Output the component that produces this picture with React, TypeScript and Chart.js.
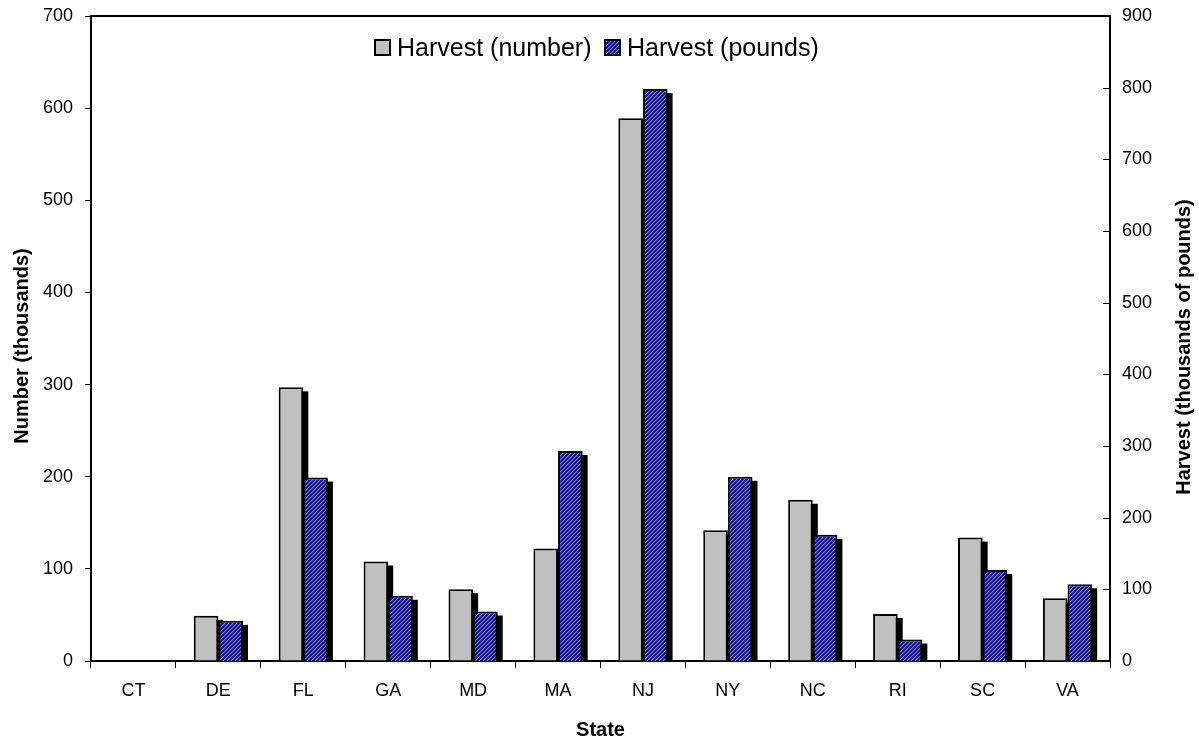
import React, { useEffect, useRef } from 'react';
import { Chart, registerables } from 'chart.js';

Chart.register(...registerables);

const states = ['CT', 'DE', 'FL', 'GA', 'MD', 'MA', 'NJ', 'NY', 'NC', 'RI', 'SC', 'VA'];
const harvestNumber = [0, 49, 297, 108, 78, 122, 589, 142, 175, 51, 134, 68];
const harvestPounds = [0, 56, 256, 91, 69, 293, 798, 257, 176, 30, 127, 107];
const seriesLabels = ['Harvest (number)', 'Harvest (pounds)'];
const leftAxisMax = 700;
const rightAxisMax = 900;
const tickStep = 100;
const leftTitle = 'Number (thousands)';
const rightTitle = 'Harvest (thousands of pounds)';
const xTitle = 'State';

const FONT = '"Liberation Sans", Arial, sans-serif';

function makePattern(): CanvasPattern | string {
  const c = document.createElement('canvas');
  c.width = 4;
  c.height = 4;
  const g = c.getContext('2d');
  if (!g) return '#2a2a9c';
  g.fillStyle = '#16167a';
  g.fillRect(0, 0, 4, 4);
  for (let i = 0; i < 4; i++) {
    g.fillStyle = '#8080dc';
    g.fillRect(i, 3 - i, 1, 1);
    g.fillStyle = '#3030a8';
    g.fillRect(i, (4 - i) % 4, 1, 1);
  }
  return g.createPattern(c, 'repeat') || '#2a2a9c';
}

export default function App() {
  const ref = useRef<HTMLCanvasElement>(null);

  useEffect(() => {
    if (!ref.current) return;
    const pattern = makePattern();
    const gray = '#c0c0c0';

    const shadowPlugin = {
      id: 'barShadows',
      beforeDatasetsDraw(chart: any) {
        const ctx = chart.ctx;
        const area = chart.chartArea;
        ctx.save();
        ctx.beginPath();
        ctx.rect(area.left, area.top, area.right - area.left + 10, area.bottom - area.top);
        ctx.clip();
        ctx.fillStyle = '#000';
        chart.data.datasets.forEach((_ds: any, i: number) => {
          const meta = chart.getDatasetMeta(i);
          meta.data.forEach((el: any) => {
            const p = el.getProps(['x', 'y', 'base', 'width'], true);
            if (Math.abs(p.base - p.y) < 1) return;
            const left = p.x - p.width / 2 + 5;
            const top = p.y + 4;
            ctx.fillRect(left, top, p.width, p.base - top);
          });
        });
        ctx.restore();
      },
    };

    const decorPlugin = {
      id: 'decor',
      afterDraw(chart: any) {
        const ctx = chart.ctx;
        const area = chart.chartArea;
        const y1 = chart.scales.y1;
        ctx.save();
        // top frame line
        ctx.strokeStyle = '#000';
        ctx.lineWidth = 2;
        ctx.beginPath();
        ctx.moveTo(area.left, area.top);
        ctx.lineTo(area.right, area.top);
        ctx.stroke();
        // inward ticks on right axis
        ctx.lineWidth = 1;
        for (let v = 0; v <= rightAxisMax; v += tickStep) {
          const py = Math.round(y1.getPixelForValue(v)) + 0.5;
          ctx.beginPath();
          ctx.moveTo(area.right - 7, py);
          ctx.lineTo(area.right, py);
          ctx.stroke();
        }
        // rotated axis titles
        ctx.fillStyle = '#000';
        ctx.font = `bold 20px ${FONT}`;
        ctx.textAlign = 'center';
        ctx.textBaseline = 'middle';
        ctx.save();
        ctx.translate(22, 346);
        ctx.rotate(-Math.PI / 2);
        ctx.fillText(leftTitle, 0, 0);
        ctx.restore();
        ctx.save();
        ctx.translate(1184, 347);
        ctx.rotate(-Math.PI / 2);
        ctx.fillText(rightTitle, 0, 0);
        ctx.restore();
        // legend
        const items = [
          { x: 375, fill: gray as any, label: seriesLabels[0] },
          { x: 605, fill: pattern as any, label: seriesLabels[1] },
        ];
        ctx.font = `25px ${FONT}`;
        ctx.textAlign = 'left';
        items.forEach((it) => {
          ctx.fillStyle = it.fill;
          ctx.fillRect(it.x, 40, 15, 15);
          ctx.strokeStyle = '#000';
          ctx.lineWidth = 2;
          ctx.strokeRect(it.x, 40, 15, 15);
          ctx.fillStyle = '#000';
          ctx.fillText(it.label, it.x + 22, 49);
        });
        ctx.restore();
      },
    };

    const chart = new Chart(ref.current, {
      type: 'bar',
      data: {
        labels: states,
        datasets: [
          {
            label: seriesLabels[0],
            data: harvestNumber,
            yAxisID: 'y',
            backgroundColor: gray,
            borderColor: '#000',
            borderWidth: 2,
            categoryPercentage: 0.58,
            barPercentage: 1,
          },
          {
            label: seriesLabels[1],
            data: harvestPounds,
            yAxisID: 'y1',
            backgroundColor: pattern as any,
            borderColor: '#000',
            borderWidth: 2,
            categoryPercentage: 0.58,
            barPercentage: 1,
          },
        ],
      },
      options: {
        responsive: false,
        animation: false,
        devicePixelRatio: 1,
        layout: { padding: { top: 16, left: 0, right: 0, bottom: 0 } },
        plugins: {
          legend: { display: false },
          tooltip: { enabled: false },
        },
        scales: {
          x: {
            grid: {
              display: true,
              drawOnChartArea: false,
              offset: true,
              drawTicks: true,
              tickLength: 7,
              color: '#000',
              lineWidth: 1,
            },
            border: { display: true, color: '#000', width: 2 },
            ticks: { color: '#000', font: { family: FONT, size: 18 }, padding: 12, maxRotation: 0 },
            title: {
              display: true,
              text: xTitle,
              color: '#000',
              font: { family: FONT, size: 20, weight: 'bold' },
              padding: { top: 0, bottom: 0 },
            },
            afterFit: (s: any) => {
              s.height = 81;
              s.paddingLeft = 0;
              s.paddingRight = 0;
            },
          },
          y: {
            position: 'left',
            min: 0,
            max: leftAxisMax,
            ticks: { stepSize: tickStep, color: '#000', font: { family: FONT, size: 18 }, padding: 12 },
            grid: {
              display: true,
              drawOnChartArea: false,
              drawTicks: true,
              tickLength: 6,
              color: '#000',
              lineWidth: 1,
            },
            border: { display: true, color: '#000', width: 2 },
            afterFit: (s: any) => {
              s.width = 91;
              s.paddingTop = 0;
              s.paddingBottom = 0;
            },
          },
          y1: {
            position: 'right',
            min: 0,
            max: rightAxisMax,
            ticks: { stepSize: tickStep, color: '#000', font: { family: FONT, size: 18 }, padding: 12 },
            grid: { display: false, drawTicks: false },
            border: { display: true, color: '#000', width: 2 },
            afterFit: (s: any) => {
              s.width = 89;
              s.paddingTop = 0;
              s.paddingBottom = 0;
            },
          },
        },
      },
      plugins: [shadowPlugin, decorPlugin],
    });

    return () => chart.destroy();
  }, []);

  return (
    <div style={{ position: 'absolute', left: 0, top: 0, width: 1199, height: 742, background: '#fff' }}>
      <canvas ref={ref} width={1199} height={742} />
    </div>
  );
}
